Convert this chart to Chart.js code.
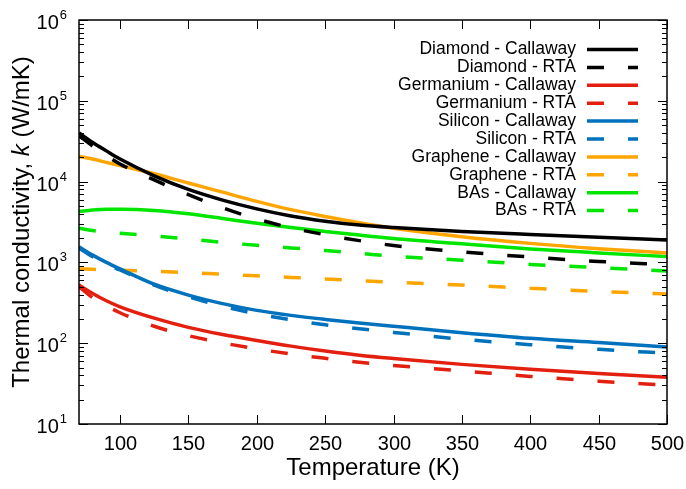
<!DOCTYPE html>
<html>
<head>
<meta charset="utf-8">
<script src="https://cdn.jsdelivr.net/npm/chart.js@4/dist/chart.umd.min.js"></script>
<style>
  html, body { margin: 0; padding: 0; background: #ffffff; }
  #wrap { width: 686px; height: 489px; }
</style>
</head>
<body>
<div id="wrap"><canvas id="c" width="686" height="489"></canvas></div>
<script>
// ---- data ----
const temps = [70, 80, 90, 100, 125, 150, 175, 200, 225, 250, 275, 300, 350, 400, 450, 500];

const diamondCallaway   = [40000, 30500, 24000, 19000, 11800, 8000, 5900, 4600, 3760, 3240, 2900, 2700, 2415, 2215, 2050, 1900];
const diamondRTA        = [37000, 27500, 21000, 16500, 10500, 6900, 4750, 3450, 2680, 2200, 1860, 1620, 1350, 1165, 1028, 938];
const germaniumCallaway = [525, 412, 335, 282, 204, 157, 128, 108, 92, 80, 71, 64.6, 54.7, 47.5, 42.2, 38];
const germaniumRTA      = [500, 365, 290, 238, 162, 124, 101, 85, 73.5, 65, 58, 53, 45.4, 38.8, 33.9, 30.2];
const siliconCallaway   = [1560, 1230, 1000, 832, 537, 394, 309, 255, 221, 197, 178, 162, 135, 115, 102, 90];
const siliconRTA        = [1500, 1175, 955, 805, 525, 375, 286, 231, 195, 169, 151, 136, 112, 96, 84, 75];
const grapheneCallaway  = [20500, 19000, 17300, 15800, 12500, 9600, 7400, 5700, 4500, 3700, 3100, 2650, 2080, 1720, 1480, 1310];
const grapheneRTA       = [830, 820, 810, 802, 775, 745, 715, 682, 652, 625, 595, 568, 524, 478, 438, 407];
const basCallaway       = [4250, 4450, 4550, 4550, 4400, 4000, 3500, 3050, 2700, 2420, 2180, 1980, 1700, 1470, 1310, 1180];
const basRTA            = [2650, 2480, 2370, 2290, 2125, 1945, 1770, 1625, 1510, 1405, 1295, 1190, 1065, 945, 860, 785];

const seriesLabels = [
  'Diamond - Callaway', 'Diamond - RTA',
  'Germanium - Callaway', 'Germanium - RTA',
  'Silicon - Callaway', 'Silicon - RTA',
  'Graphene - Callaway', 'Graphene - RTA',
  'BAs - Callaway', 'BAs - RTA'
];
const seriesValues = [
  diamondCallaway, diamondRTA,
  germaniumCallaway, germaniumRTA,
  siliconCallaway, siliconRTA,
  grapheneCallaway, grapheneRTA,
  basCallaway, basRTA
];
const xTickValues = [100, 150, 200, 250, 300, 350, 400, 450, 500];
const yTickExponents = [1, 2, 3, 4, 5, 6];
const xTitle = 'Temperature (K)';
const yTitleParts = ['Thermal conductivity, ', 'k', ' (W/mK)'];

// ---- styles ----
const colors = ['#000000', '#000000', '#e3200f', '#e3200f', '#0072bd', '#0072bd', '#ffa500', '#ffa500', '#00e600', '#00e600'];
const DASH = [17, 24];
const FONT = '"Liberation Sans", Arial, Helvetica, sans-serif';

const datasets = seriesLabels.map((lab, i) => ({
  label: lab,
  data: temps.map((t, j) => ({ x: t, y: seriesValues[i][j] })),
  borderColor: colors[i],
  backgroundColor: colors[i],
  borderWidth: 3.5,
  borderDash: (i % 2 === 1) ? DASH : [],
  borderCapStyle: 'butt',
  pointRadius: 0,
  cubicInterpolationMode: 'monotone',
  fill: false
}));

const decor = {
  id: 'decor',
  afterDraw(chart) {
    const ctx = chart.ctx;
    const a = chart.chartArea;
    const xs = chart.scales.x, ys = chart.scales.y;
    ctx.save();
    ctx.strokeStyle = '#000';
    ctx.fillStyle = '#000';
    ctx.lineWidth = 1.5;
    // frame
    ctx.strokeRect(a.left, a.top, a.right - a.left, a.bottom - a.top);
    // x ticks
    ctx.lineWidth = 1;
    ctx.font = '20px ' + FONT;
    ctx.textAlign = 'center';
    ctx.textBaseline = 'middle';
    xTickValues.forEach(v => {
      const px = Math.round(xs.getPixelForValue(v)) + 0.5;
      ctx.beginPath();
      ctx.moveTo(px, a.bottom); ctx.lineTo(px, a.bottom - 9);
      ctx.moveTo(px, a.top); ctx.lineTo(px, a.top + 9);
      ctx.stroke();
      ctx.fillText(String(v), px, a.bottom + 20);
    });
    // y ticks (log)
    yTickExponents.forEach(e => {
      const dec = Math.pow(10, e);
      const py = Math.round(ys.getPixelForValue(dec)) + 0.5;
      ctx.beginPath();
      ctx.moveTo(a.left, py); ctx.lineTo(a.left + 9, py);
      ctx.moveTo(a.right, py); ctx.lineTo(a.right - 9, py);
      ctx.stroke();
      if (e < 6) {
        for (let m = 2; m <= 9; m++) {
          const pm = Math.round(ys.getPixelForValue(m * dec)) + 0.5;
          ctx.beginPath();
          ctx.moveTo(a.left, pm); ctx.lineTo(a.left + 5, pm);
          ctx.moveTo(a.right, pm); ctx.lineTo(a.right - 5, pm);
          ctx.stroke();
        }
      }
      // label 10^e
      ctx.font = '13px ' + FONT;
      const expTxt = String(e);
      const ew = ctx.measureText(expTxt).width;
      const rightX = a.left - 12;
      ctx.textAlign = 'right';
      ctx.textBaseline = 'alphabetic';
      ctx.fillText(expTxt, rightX, py - 2);
      ctx.font = '20px ' + FONT;
      ctx.fillText('10', rightX - ew - 1, py + 8);
    });
    // x title
    ctx.font = '24px ' + FONT;
    ctx.textAlign = 'center';
    ctx.textBaseline = 'middle';
    ctx.fillText(xTitle, (a.left + a.right) / 2, 468);
    // y title (rotated, with italic k)
    ctx.save();
    ctx.translate(22, (a.top + a.bottom) / 2);
    ctx.rotate(-Math.PI / 2);
    const fonts = ['24px ' + FONT, 'italic 24px ' + FONT, '24px ' + FONT];
    let total = 0;
    const widths = yTitleParts.map((p, i) => { ctx.font = fonts[i]; const w = ctx.measureText(p).width; total += w; return w; });
    let cx = -total / 2;
    ctx.textAlign = 'left';
    ctx.textBaseline = 'middle';
    yTitleParts.forEach((p, i) => { ctx.font = fonts[i]; ctx.fillText(p, cx, 0); cx += widths[i]; });
    ctx.restore();
    // legend
    ctx.font = '17.5px ' + FONT;
    chart.data.datasets.forEach((ds, i) => {
      const y = 49.5 + i * 17.9;
      ctx.textAlign = 'right';
      ctx.textBaseline = 'middle';
      ctx.fillStyle = '#000';
      ctx.fillText(ds.label, 576, y);
      ctx.strokeStyle = ds.borderColor;
      ctx.lineWidth = 3.5;
      ctx.lineCap = 'butt';
      ctx.setLineDash(ds.borderDash || []);
      ctx.beginPath();
      ctx.moveTo(587, y); ctx.lineTo(638, y);
      ctx.stroke();
      ctx.setLineDash([]);
    });
    ctx.restore();
  }
};

new Chart(document.getElementById('c'), {
  type: 'line',
  data: { datasets },
  options: {
    responsive: false,
    animation: false,
    devicePixelRatio: 1,
    layout: { padding: { left: 79, right: 19, top: 20, bottom: 65 } },
    plugins: { legend: { display: false }, tooltip: { enabled: false } },
    scales: {
      x: { type: 'linear', min: 70, max: 500, display: false },
      y: { type: 'logarithmic', min: 10, max: 1000000, display: false }
    }
  },
  plugins: [decor]
});
</script>
</body>
</html>
